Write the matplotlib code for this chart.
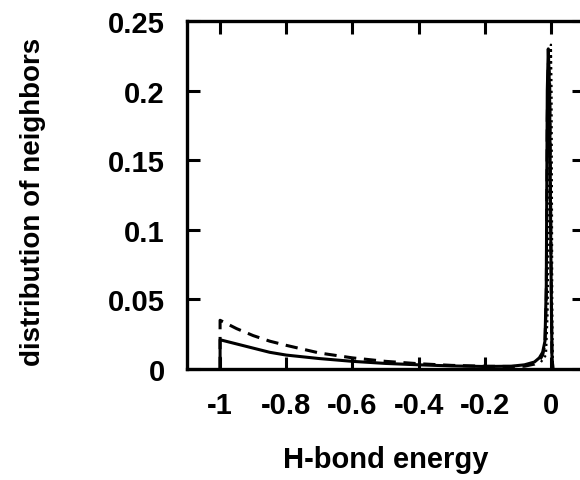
import matplotlib
matplotlib.use("Agg")
import matplotlib.pyplot as plt

# H-bond energy grid and distributions
energy = [-1.0, -1.0, -0.95, -0.9, -0.85, -0.8, -0.7, -0.6, -0.5, -0.4, -0.3, -0.2,
          -0.12, -0.08, -0.05, -0.035, -0.025, -0.018, -0.014, -0.011, -0.008,
          -0.004, 0.0, 0.003, 0.006]
solid = [0.0, 0.021, 0.018, 0.015, 0.012, 0.010, 0.0075, 0.0055, 0.004, 0.003, 0.0022, 0.0018,
         0.002, 0.003, 0.005, 0.008, 0.012, 0.02, 0.06, 0.20, 0.23,
         0.20, 0.08, 0.01, 0.0]
dashed = [0.0, 0.035, 0.029, 0.024, 0.020, 0.017, 0.0115, 0.008, 0.0055, 0.0038, 0.0026, 0.002,
          0.0018, 0.002, 0.0035, 0.006, 0.01, 0.018, 0.05, 0.18, 0.22,
          0.21, 0.09, 0.01, 0.0]
dot_energy = [-0.03, -0.015, -0.01, -0.006, -0.003, 0.0, 0.002, 0.004, 0.006]
dotted = [0.005, 0.01, 0.04, 0.12, 0.20, 0.233, 0.20, 0.05, 0.0]

xticks = [-1, -0.8, -0.6, -0.4, -0.2, 0]
xtick_labels = ["-1", "-0.8", "-0.6", "-0.4", "-0.2", "0"]
yticks = [0, 0.05, 0.1, 0.15, 0.2, 0.25]
ytick_labels = ["0", "0.05", "0.1", "0.15", "0.2", "0.25"]

plt.rcParams["font.family"] = ["Liberation Sans", "DejaVu Sans"]
plt.rcParams["font.weight"] = "bold"

fig = plt.figure(figsize=(5.8, 4.81), dpi=100)
ax = fig.add_axes([187 / 580, 111 / 481, 397 / 580, 348 / 481])

ax.plot(energy, solid, color="black", lw=2.2)
ax.plot(energy, dashed, color="black", lw=2.2, ls=(0, (4, 2.5)))
ax.plot(dot_energy, dotted, color="black", lw=1.6, ls=":")

ax.set_xlim(-1.1, 0.1)
ax.set_ylim(0, 0.25)
ax.set_xticks(xticks)
ax.set_xticklabels(xtick_labels)
ax.set_yticks(yticks)
ax.set_yticklabels(ytick_labels)
ax.tick_params(direction="in", length=9, width=2.2, labelsize=21,
               top=True, right=True)
ax.tick_params(axis="x", pad=16)
ax.tick_params(axis="y", pad=16)
for s in ax.spines.values():
    s.set_linewidth(2.4)

ax.set_xlabel("H-bond energy", fontsize=21, fontweight="bold", va="center")
ax.xaxis.set_label_coords(0.5, -0.259)
ax.set_ylabel("distribution of neighbors", fontsize=20, fontweight="bold", va="center")
ax.yaxis.set_label_coords(-0.387, 0.483)

fig.savefig("out.png", dpi=100)
